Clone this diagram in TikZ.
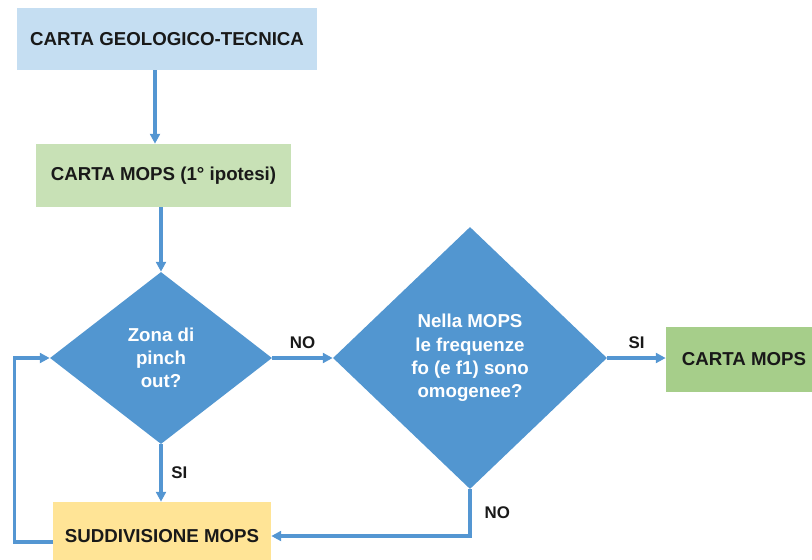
\documentclass[tikz,border=0pt]{standalone}
\usepackage{fontspec}
\setmainfont{Liberation Sans}
\usetikzlibrary{shapes.geometric,arrows.meta}

\definecolor{lineblue}{RGB}{84,150,210}
\definecolor{geoblue}{RGB}{197,222,242}
\definecolor{paleGreen}{RGB}{200,225,182}
\definecolor{mopsGreen}{RGB}{166,206,138}
\definecolor{subYellow}{RGB}{255,228,150}
\definecolor{askBlue}{RGB}{82,150,208}

\begin{document}
\begin{tikzpicture}[x=0.025cm,y=-0.025cm]

      \useasboundingbox (0,0) rectangle (812,560);
      \clip (0,0) rectangle (812,560);

      \begin{scope}[every node/.style={rectangle,inner sep=0pt,text=black!90,
          font=\fontsize{13.3}{16}\selectfont\bfseries}]
        \node[fill=geoblue,minimum width=7.5cm,minimum height=1.55cm]    (1) at (167,39)    {CARTA GEOLOGICO-TECNICA};
        \node[fill=paleGreen,minimum width=6.375cm,minimum height=1.575cm] (2) at (163.5,175.5) {CARTA MOPS (1° ipotesi)};
        \node[fill=subYellow,minimum width=5.45cm,minimum height=1.7cm]  (5) at (162,536)   {SUDDIVISIONE MOPS};
        \node[fill=mopsGreen,minimum width=3.9cm,minimum height=1.625cm] (6) at (744,359.5) {CARTA MOPS};
      \end{scope}

      \begin{scope}[every node/.style={diamond,inner sep=0pt,fill=askBlue,text=white,align=center,
          font=\fontsize{13.3}{16.5}\selectfont\bfseries}]
        \node[minimum width=5.55cm,minimum height=4.3cm]  (3) at (161,358) {Zona di\\pinch\\out?};
        \node[minimum width=6.85cm,minimum height=6.55cm] (4) at (470,358) {Nella MOPS\\le frequenze\\fo (e f1) sono\\omogenee?};
      \end{scope}

      \begin{scope}[every node/.style={font=\fontsize{12}{14}\selectfont\bfseries,text=black!90},
          every edge/.style={draw,lineblue,line width=2.2pt,-{Triangle[length=7pt,width=7pt]}}]
        \path (1.south -| 155,0) edge (2.north -| 155,0);
        \path (2.south -| 161,0) edge (3.north);
        \path (3.east)  edge node[above=2pt] {NO} (4.west);
        \path (4.east)  edge node[above=2pt] {SI} (4.east -| 6.west);
        \path (3.south) edge node[right=3pt] {SI} (5.north -| 3.south);
        \draw[lineblue,line width=2.2pt,-{Triangle[length=7pt,width=7pt]}]
          (4.south) |- node[pos=0.25,right=6pt] {NO} (5.east);
        \draw[lineblue,line width=2.2pt,-{Triangle[length=7pt,width=7pt]}]
          ([yshift=-0.15cm]5.west) -- ++(-38,0) |- (3.west);
      \end{scope}

    \end{tikzpicture}
\end{document}
